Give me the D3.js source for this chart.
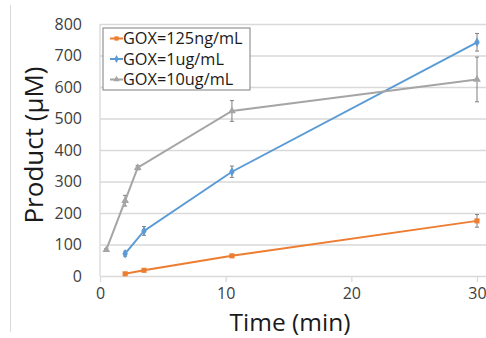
<!DOCTYPE html>
<html>
<head>
<meta charset="utf-8">
<script src="https://cdn.jsdelivr.net/npm/d3@7"></script>
<style>
  body { margin: 0; background: #fff; }
  svg text { font-family: "Open Sans", "DejaVu Sans", sans-serif; }
</style>
</head>
<body>
<div id="chart"></div>
<script>
// series data
const seriesNames = ["GOX=125ng/mL", "GOX=1ug/mL", "GOX=10ug/mL"];
const timesLow = [2, 3.5, 10.5, 30];
const valuesLow = [7, 18, 64, 175];
const errorsLow = [2, 3, 4, 20];
const timesMid = [2, 3.5, 10.5, 30];
const valuesMid = [71, 143, 331, 742];
const errorsMid = [8, 14, 18, 28];
const timesHigh = [0.5, 2, 3, 10.5, 30];
const valuesHigh = [83, 239, 344, 524, 624];
const errorsHigh = [4, 17, 7, 33, 71];
const yTicks = [0, 100, 200, 300, 400, 500, 600, 700, 800];
const xTicks = [0, 10, 20, 30];

const colors = ["#ED7D31", "#5B9BD5", "#A5A5A5"];
const markers = [d3.symbolSquare, d3.symbolDiamond, d3.symbolTriangle];

const width = 486, height = 338;
const plotLeft = 100, plotRight = 486;

const svg = d3.select("#chart").append("svg")
  .attr("width", width)
  .attr("height", height);

const x = d3.scaleLinear().domain([0, 30]).range([100, 477]);
const y = d3.scaleLinear().domain([0, 800]).range([276, 24]);

// thin frame line at the left
svg.append("line")
  .attr("x1", 10.5).attr("x2", 10.5)
  .attr("y1", 5).attr("y2", 332)
  .attr("stroke", "#d9d9d9");

// horizontal gridlines + y labels
const yAxis = svg.append("g").attr("transform", `translate(${plotLeft},0)`)
  .call(d3.axisLeft(y).tickValues(yTicks).tickSize(-(plotRight - plotLeft)).tickPadding(18));
yAxis.select(".domain").remove();
yAxis.selectAll(".tick line").attr("stroke", "#d9d9d9").attr("stroke-width", 1.3);
yAxis.selectAll(".tick text").attr("fill", "#404040").attr("font-size", 16);

// vertical axis line
svg.append("line")
  .attr("x1", plotLeft).attr("x2", plotLeft)
  .attr("y1", y(800)).attr("y2", y(0))
  .attr("stroke", "#d9d9d9").attr("stroke-width", 1.3);

// x axis ticks and labels
const xAxis = svg.append("g").attr("transform", `translate(0,${y(0)})`)
  .call(d3.axisBottom(x).tickValues(xTicks).tickSize(6).tickPadding(6));
xAxis.select(".domain").remove();
xAxis.selectAll(".tick line").attr("stroke", "#d9d9d9").attr("stroke-width", 1.3);
xAxis.selectAll(".tick text").attr("fill", "#404040").attr("font-size", 16);

// axis titles
svg.append("text")
  .attr("transform", `translate(43,145) rotate(-90)`)
  .attr("text-anchor", "middle")
  .attr("font-size", 26)
  .attr("fill", "#1a1a1a")
  .text("Product (μM)");

svg.append("text")
  .attr("x", 290).attr("y", 330.5)
  .attr("text-anchor", "middle")
  .attr("font-size", 24.5)
  .attr("fill", "#1a1a1a")
  .text("Time (min)");

const allSeries = [
  { t: timesLow, v: valuesLow, e: errorsLow },
  { t: timesMid, v: valuesMid, e: errorsMid },
  { t: timesHigh, v: valuesHigh, e: errorsHigh }
];

const line = d3.line().x(d => x(d.t)).y(d => y(d.v));

allSeries.forEach((s, k) => {
  const pts = s.t.map((t, i) => ({ t: t, v: s.v[i], e: s.e[i] }));
  const g = svg.append("g");

  // error bars
  const eb = g.selectAll(".err").data(pts).enter().append("g");
  eb.append("line")
    .attr("x1", d => x(d.t)).attr("x2", d => x(d.t))
    .attr("y1", d => y(d.v + d.e)).attr("y2", d => y(d.v - d.e))
    .attr("stroke", "#7f7f7f").attr("stroke-width", 1);
  [1, -1].forEach(sgn => {
    eb.append("line")
      .attr("x1", d => x(d.t) - 2).attr("x2", d => x(d.t) + 2)
      .attr("y1", d => y(d.v + sgn * d.e)).attr("y2", d => y(d.v + sgn * d.e))
      .attr("stroke", "#7f7f7f").attr("stroke-width", 1);
  });

  g.append("path")
    .datum(pts)
    .attr("d", line)
    .attr("fill", "none")
    .attr("stroke", colors[k])
    .attr("stroke-width", 2);

  g.selectAll(".pt").data(pts).enter().append("path")
    .attr("transform", d => `translate(${x(d.t)},${y(d.v)})`)
    .attr("d", d3.symbol().type(markers[k]).size(26))
    .attr("fill", colors[k]);
});

// legend
const lg = svg.append("g");
lg.append("rect")
  .attr("x", 103).attr("y", 28)
  .attr("width", 147).attr("height", 62)
  .attr("fill", "#fff")
  .attr("stroke", "#7f7f7f").attr("stroke-width", 1);

seriesNames.forEach((name, k) => {
  const cy = 38.5 + k * 20.5;
  lg.append("line")
    .attr("x1", 110).attr("x2", 123)
    .attr("y1", cy).attr("y2", cy)
    .attr("stroke", colors[k]).attr("stroke-width", 2);
  lg.append("path")
    .attr("transform", `translate(116.5,${cy})`)
    .attr("d", d3.symbol().type(markers[k]).size(18))
    .attr("fill", colors[k]);
  lg.append("text")
    .attr("x", 123).attr("y", cy)
    .attr("dy", "0.35em")
    .attr("font-size", 16.3)
    .attr("fill", "#1a1a1a")
    .text(name);
});
</script>
</body>
</html>
